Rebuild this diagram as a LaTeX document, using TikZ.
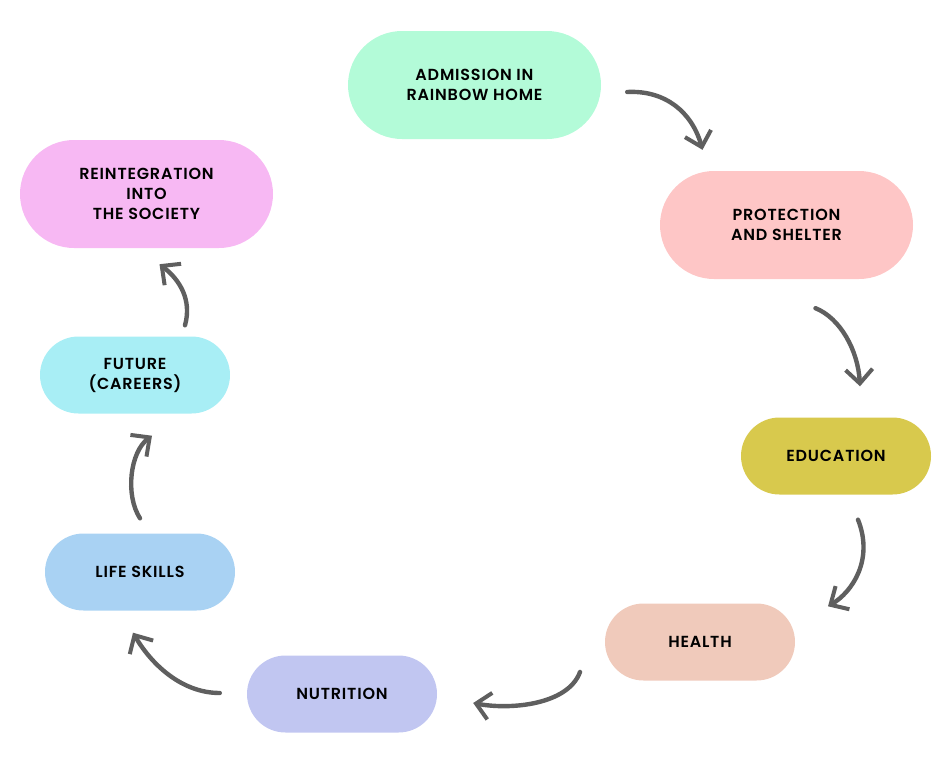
\documentclass[tikz,border=0pt]{standalone}
\usepackage{fontspec}
\IfFontExistsTF{Poppins SemiBold}
  {\setmainfont{Poppins SemiBold}[LetterSpace=5, BoldFont={Poppins SemiBold}]}
  {\setmainfont{Poppins}[LetterSpace=5]}
\usepackage{tikz}
\usetikzlibrary{arrows.meta}

\definecolor{cadm}{HTML}{B3FBD8}
\definecolor{cprot}{HTML}{FEC6C6}
\definecolor{cedu}{HTML}{D8C94D}
\definecolor{cheal}{HTML}{F0CABB}
\definecolor{cnutr}{HTML}{C1C6F1}
\definecolor{clife}{HTML}{A9D2F3}
\definecolor{cfut}{HTML}{A8EEF5}
\definecolor{creint}{HTML}{F7B8F3}
\definecolor{carrow}{HTML}{5F5F5F}

\begin{document}
\begin{tikzpicture}[
    x=1pt, y=-1pt,
    every node/.style={align=center, font=\fontsize{16}{20}\selectfont\bfseries, inner sep=0pt},
    bigpill/.style={rectangle, minimum width=253pt, minimum height=108pt, rounded corners=54pt},
    smallpill/.style={rectangle, minimum width=190pt, minimum height=77pt, rounded corners=38.5pt},
    flow/.style={draw=carrow, line width=4.4pt, line cap=round, -{Straight Barb[length=14pt,width=27pt,line width=4pt]}}
]
\useasboundingbox (0,0) rectangle (950,763);

\node[bigpill, fill=cadm] (adm) at (474.5,85) {ADMISSION IN\\RAINBOW HOME};
\node[bigpill, fill=cprot] (prot) at (786.5,225) {PROTECTION\\AND SHELTER};
\node[smallpill, fill=cedu] (edu) at (836,456) {EDUCATION};
\node[smallpill, fill=cheal] (heal) at (700,642) {HEALTH};
\node[smallpill, fill=cnutr] (nutr) at (342,694) {NUTRITION};
\node[smallpill, fill=clife] (life) at (140,572) {LIFE SKILLS};
\node[smallpill, fill=cfut] (fut) at (135,375) {FUTURE\\(CAREERS)};
\node[bigpill, fill=creint] (reint) at (146.5,194) {REINTEGRATION\\INTO\\THE SOCIETY};

% free ends of the arrows
\coordinate (adm-out) at ([shift={(26,7)}]adm.east);
\coordinate (prot-in) at ([shift={(-84,-21)}]prot.north);
\coordinate (prot-out) at ([shift={(29,29)}]prot.south);
\coordinate (edu-in) at ([shift={(24,-31)}]edu.north);
\coordinate (edu-out) at ([shift={(22,25)}]edu.south);
\coordinate (heal-in) at ([shift={(128,3)}]heal.north);
\coordinate (heal-out) at ([shift={(-120,30)}]heal.center);
\coordinate (nutr-in) at ([shift={(36,9)}]nutr.east);
\coordinate (nutr-out) at ([shift={(-27,-1)}]nutr.west);
\coordinate (life-in) at ([shift={(-7,22)}]life.south);
\coordinate (life-out) at ([shift={(0,-15)}]life.north);
\coordinate (fut-in) at ([shift={(17,22)}]fut.south);
\coordinate (fut-out) at ([shift={(50,-11)}]fut.north);
\coordinate (reint-in) at ([shift={(13,16)}]reint.south);

\draw[flow] (adm-out) .. controls (665,90) and (692,112) .. (prot-in);
\draw[flow] (prot-out) .. controls (840,318) and (858,350) .. (edu-in);
\draw[flow] (edu-out) .. controls (874,560) and (852,592) .. (heal-in);
\draw[flow] (heal-out) .. controls (568,705) and (510,710) .. (nutr-in);
\draw[flow] (nutr-out) .. controls (180,693) and (150,662) .. (life-in);
\draw[flow] (life-out) .. controls (125,495) and (130,452) .. (fut-in);
\draw[flow] (fut-out) .. controls (192,300) and (180,280) .. (reint-in);
\end{tikzpicture}
\end{document}
